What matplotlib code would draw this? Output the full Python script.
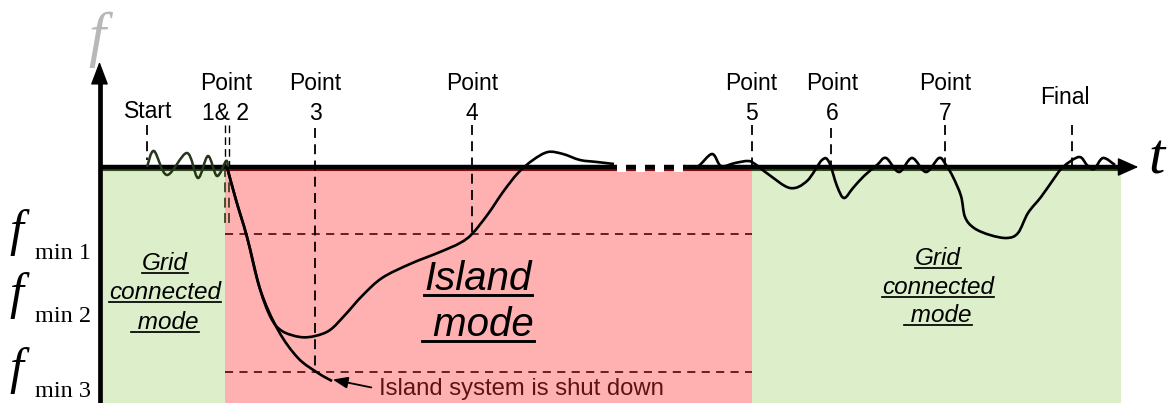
import numpy as np
import matplotlib
matplotlib.use("Agg")
import matplotlib.pyplot as plt
from matplotlib.path import Path
from matplotlib.patches import PathPatch, Rectangle

# ---------------- data (diagram coordinates: t to the right, f downward) -------------
# event labels
label_top = ["Point", "Point", "Point", "Point", "Point", "Point"]
label_num = ["1& 2", "3", "4", "5", "6", "7"]
label_t = [226, 315, 472, 751, 832, 945]
single_labels = ["Start", "Final"]
single_t = [148, 1065]
single_y = [112, 98]

# vertical dashed event markers: t, top, bottom
marker_t = [147, 315, 472, 752, 831, 945, 1072]
marker_top = [125, 128, 125, 125, 128, 125, 125]
marker_bot = [160, 373, 234, 167, 167, 167, 172]
# double marker for points 1 & 2
double_t = [225, 228.5]
double_top = 125
double_bot = 228

# frequency thresholds
fmin_names = ["min 1", "min 2", "min 3"]
fmin_level = [234, 297, 372]
fmin_lines = [234, 372]

# mode regions: start, end
green1 = (103, 225)
red = (225, 752)
green2 = (752, 1121)
axis_f = 167

# grid-connected wiggle (start to point 1&2)
wig_t = [147, 154, 167, 187, 198, 208, 217, 226, 228]
wig_f = [167, 151, 175, 153, 178, 156, 176, 161, 167]

# island frequency response that recovers
isl_t = [227, 236, 247, 260, 271, 282, 300, 315, 330, 345, 362, 382, 410, 440, 460, 472, 488,
         503, 518, 533, 548, 563, 580, 597, 614]
isl_f = [167, 200, 237, 289, 318, 331, 337, 336, 330, 315, 296, 278, 264, 252, 243, 234, 214,
         192, 173, 160, 152, 154, 160, 162, 164]

# continuation after the time break and grid-connected part
grid_t = [684, 697, 712, 721, 735, 748, 755, 768, 790, 807, 822, 829, 837, 844, 853, 864, 877,
          886, 899, 912, 926, 939, 946, 953, 961, 965, 974, 990, 1007, 1018, 1028, 1041, 1053,
          1063, 1079, 1087, 1094, 1103, 1115]
grid_f = [166, 167, 154, 166, 163, 161, 164, 174, 188, 181, 160, 162, 186, 198, 188, 176, 165,
          158, 172, 158, 172, 158, 165, 177, 196, 217, 228, 235, 238, 233, 213, 197, 180,
          167, 157, 165, 169, 158, 165]

# island shut-down trajectory
shut_t = [227, 236, 247, 260, 278, 298, 318, 332]
shut_f = [167, 200, 237, 289, 330, 358, 373, 381]

# time-break gaps on the t axis
gap_t = [617, 636, 655, 674]
gap_w = 9

# ---------------- figure -------------
W, H = 1169, 403
fig = plt.figure(figsize=(W / 100, H / 100), dpi=100)
ax = fig.add_axes([0, 0, 1, 1])
ax.set_xlim(0, W)
ax.set_ylim(H, 0)
ax.axis("off")

GREEN = "#ddeecb"
RED = "#ffb0b0"
DRED = "#5a1414"
SANS = "Liberation Sans"
SERIF = "Liberation Serif"

# regions
for (a, b), c, ec in [(green1, GREEN, "#2e4a1a"), (red, RED, "#7a0f0f"), (green2, GREEN, "#2e4a1a")]:
    ax.add_patch(Rectangle((a, axis_f), b - a, H - axis_f + 5, facecolor=c, edgecolor="none", zorder=0))
    ax.plot([a, b], [axis_f + 2.5, axis_f + 2.5], color=ec, lw=1.5, zorder=1)

# threshold dashed lines
for y in fmin_lines:
    ax.plot([red[0], red[1]], [y, y], color=DRED, lw=1.3, dashes=(4.5, 3.5), zorder=2)

# event markers
for t, y0, y1 in zip(marker_t, marker_top, marker_bot):
    ax.plot([t, t], [y0, y1], color="black", lw=1.3, dashes=(5.5, 3.5), zorder=2)
for t in double_t:
    ax.plot([t, t], [double_top, axis_f], color="black", lw=1.0, dashes=(5.5, 3.0), zorder=2)
    ax.plot([t, t], [axis_f, double_bot], color="#3a4424", lw=1.3, dashes=(5.5, 3.0), zorder=2)


def smooth(xs, ys):
    P = np.column_stack([xs, ys]).astype(float)
    E = np.vstack([P[0], P, P[-1]])
    verts = [P[0]]
    codes = [Path.MOVETO]
    for i in range(1, len(E) - 2):
        p0, p1, p2, p3 = E[i - 1], E[i], E[i + 1], E[i + 2]
        verts += [p1 + (p2 - p0) / 6, p2 - (p3 - p1) / 6, p2]
        codes += [Path.CURVE4] * 3
    return Path(verts, codes)


# axes of the diagram
ax.plot([green1[0] - 3, 1122], [axis_f, axis_f], color="black", lw=3.2, zorder=3, solid_capstyle="butt")
ax.annotate("", xy=(1141, axis_f), xytext=(1115, axis_f),
            arrowprops=dict(arrowstyle="-|>,head_length=1.3,head_width=0.58", color="black", lw=1), zorder=4)
ax.plot([99.5, 99.5], [H, 78], color="black", lw=3.4, zorder=4, solid_capstyle="butt")
ax.annotate("", xy=(99.5, 59), xytext=(99.5, 85),
            arrowprops=dict(arrowstyle="-|>,head_length=1.45,head_width=0.55", color="black", lw=1), zorder=4)

# curves
ax.add_patch(PathPatch(smooth(wig_t, wig_f), fill=False, edgecolor="#25361a", lw=1.8, zorder=5))
ax.add_patch(PathPatch(smooth(isl_t, isl_f), fill=False, edgecolor="black", lw=1.9, zorder=5))
ax.add_patch(PathPatch(smooth(grid_t, grid_f), fill=False, edgecolor="black", lw=1.9, zorder=5))
ax.add_patch(PathPatch(smooth(shut_t, shut_f), fill=False, edgecolor="black", lw=1.9, zorder=5))

# time break
for g in gap_t:
    ax.add_patch(Rectangle((g, axis_f - 4), gap_w, 9, facecolor="white", edgecolor="none", zorder=6))

# shut-down annotation
ax.annotate("", xy=(330, 379), xytext=(374, 388),
            arrowprops=dict(arrowstyle="-|>,head_length=0.9,head_width=0.35", color="black", lw=1.3), zorder=6)
ax.text(379, 389, "Island system is shut down", fontsize=17.2, family=SANS, color=DRED,
        ha="left", va="center", zorder=6)

# event labels
for top, num, t in zip(label_top, label_num, label_t):
    ax.text(t, 83, top, fontsize=16.5, family=SANS, ha="center", va="center", zorder=6)
    ax.text(t, 113, num, fontsize=16.5, family=SANS, ha="center", va="center", zorder=6)
for s, t, y in zip(single_labels, single_t, single_y):
    ax.text(t, y, s, fontsize=16.5, family=SANS, ha="center", va="center", zorder=6)

# axis letters
ax.text(97, 40, "f", fontsize=44, family=SERIF, style="italic", color="#b8b8b8", ha="center", va="center")
ax.text(1157, 160, "t", fontsize=42, family=SERIF, style="italic", color="black", ha="center", va="center")

# threshold labels
for name, y in zip(fmin_names, fmin_level):
    ax.text(9, y + 11, "f", fontsize=36, family=SERIF, style="italic", ha="left", va="baseline")
    ax.text(35, y + 25, name, fontsize=17.5, family=SERIF, ha="left", va="baseline")

# underlined mode captions
captions = []
for lines, cx, ys, fs in [
    (["Grid", "connected", " mode"], 165, [270, 299, 329], 17.5),
    (["Grid", "connected", " mode"], 938, [265, 294, 322], 17.5),
    (["Island", " mode"], 478, [290, 336], 29),
]:
    for s, y in zip(lines, ys):
        tx = ax.text(cx, y, s, fontsize=fs, family=SANS, style="italic", ha="center", va="baseline", zorder=6)
        captions.append((tx, y, fs))

fig.canvas.draw()
r = fig.canvas.get_renderer()
inv = ax.transData.inverted()
for tx, y, fs in captions:
    bb = tx.get_window_extent(r)
    (x0, _), (x1, _) = inv.transform([[bb.x0, bb.y0], [bb.x1, bb.y1]])
    off = fs * 100 / 72 * 0.12
    ax.plot([x0, x1], [y + off, y + off], color="black", lw=fs / 14, zorder=6)

fig.savefig("out.png", dpi=100)
